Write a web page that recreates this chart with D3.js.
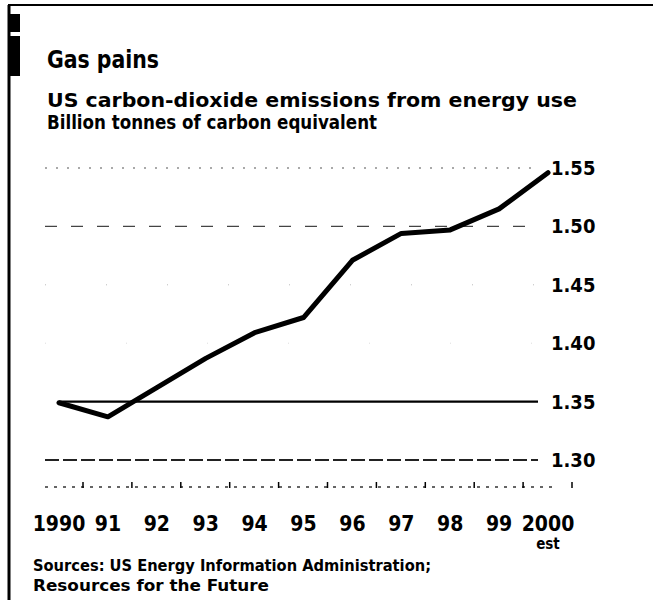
<!DOCTYPE html>
<html>
<head>
<meta charset="utf-8">
<script src="https://cdn.jsdelivr.net/npm/d3@7"></script>
<style>
  body { margin: 0; background: #fff; }
  svg text { font-family: "Liberation Sans Narrow", "DejaVu Sans Condensed", "Liberation Sans", sans-serif; fill: #000; }
</style>
</head>
<body>
<div id="chart"></div>
<script>
// US carbon-dioxide emissions, billion tonnes of carbon equivalent
var years = [1990, 1991, 1992, 1993, 1994, 1995, 1996, 1997, 1998, 1999, 2000];
var emissions = [1.349, 1.337, 1.362, 1.387, 1.409, 1.422, 1.471, 1.494, 1.497, 1.515, 1.546];
var yearLabels = ["1990", "91", "92", "93", "94", "95", "96", "97", "98", "99", "2000"];
var yTicks = [1.30, 1.35, 1.40, 1.45, 1.50, 1.55];

var W = 653, H = 607;
var svg = d3.select("#chart").append("svg")
    .attr("width", W)
    .attr("height", H);

svg.append("rect").attr("width", W).attr("height", H).attr("fill", "#fff");

// frame: top rule, left rule and the black tag
svg.append("line").attr("x1", 8).attr("x2", W).attr("y1", 5).attr("y2", 5)
    .attr("stroke", "#000").attr("stroke-width", 2);
svg.append("line").attr("x1", 9).attr("x2", 9).attr("y1", 5).attr("y2", 600)
    .attr("stroke", "#000").attr("stroke-width", 3);
svg.append("rect").attr("x", 8).attr("y", 14).attr("width", 12).attr("height", 18).attr("fill", "#000");
svg.append("rect").attr("x", 8).attr("y", 36).attr("width", 12).attr("height", 40).attr("fill", "#000");

// titles
svg.append("text").attr("x", 47).attr("y", 68)
    .style("font-size", "25px").style("font-weight", "bold")
    .attr("textLength", 112).attr("lengthAdjust", "spacingAndGlyphs")
    .text("Gas pains");
svg.append("text").attr("x", 47).attr("y", 107)
    .style("font-size", "19px").style("font-weight", "bold")
    .attr("textLength", 530).attr("lengthAdjust", "spacingAndGlyphs")
    .text("US carbon-dioxide emissions from energy use");
svg.append("text").attr("x", 47).attr("y", 129)
    .style("font-size", "19px").style("font-weight", "bold")
    .attr("textLength", 330).attr("lengthAdjust", "spacingAndGlyphs")
    .text("Billion tonnes of carbon equivalent");

var x = d3.scaleLinear().domain([1990, 2000]).range([59, 548]);
var y = d3.scaleLinear().domain([1.30, 1.55]).range([460, 168]);

// gridlines
var gridStyle = {
  "1.55": {dash: "2,9", w: 1.2, c: "#555"},
  "1.5":  {dash: "12,14", w: 1.2, c: "#444"},
  "1.45": {dash: "1,60", w: 1, c: "#bbb"},
  "1.4":  {dash: "1,80", w: 1, c: "#ddd"},
  "1.35": {dash: null, w: 2.2, c: "#000"},
  "1.3":  {dash: "14,4", w: 1.8, c: "#222"}
};
svg.append("g").selectAll("line")
  .data(yTicks)
  .enter().append("line")
    .attr("x1", function(d) { return d === 1.35 ? x(1990) : 45; })
    .attr("x2", 538)
    .attr("y1", function(d) { return y(d); })
    .attr("y2", function(d) { return y(d); })
    .attr("stroke", function(d) { return gridStyle[String(d)].c; })
    .attr("stroke-width", function(d) { return gridStyle[String(d)].w; })
    .attr("stroke-dasharray", function(d) { return gridStyle[String(d)].dash; });

// right-hand value labels
svg.append("g").selectAll("text")
  .data(yTicks)
  .enter().append("text")
    .attr("x", 551)
    .attr("y", function(d) { return y(d) + 7; })
    .style("font-size", "20px").style("font-weight", "bold")
    .text(function(d) { return d.toFixed(2); });

// x axis: dotted baseline with ticks
var axisY = 487;
svg.append("line").attr("x1", 45).attr("x2", 555).attr("y1", axisY).attr("y2", axisY)
    .attr("stroke", "#333").attr("stroke-width", 1.5).attr("stroke-dasharray", "3,6");
svg.append("g").selectAll("line")
  .data(years)
  .enter().append("line")
    .attr("x1", function(d) { return x(d) + 24; })
    .attr("x2", function(d) { return x(d) + 24; })
    .attr("y1", axisY - 5).attr("y2", axisY + 1)
    .attr("stroke", "#000").attr("stroke-width", 1.5);

svg.append("g").selectAll("text")
  .data(years)
  .enter().append("text")
    .attr("x", function(d) { return x(d); })
    .attr("y", 531)
    .attr("text-anchor", "middle")
    .style("font-size", "21px").style("font-weight", "bold")
    .text(function(d, i) { return yearLabels[i]; });
svg.append("text").attr("x", x(2000)).attr("y", 549)
    .attr("text-anchor", "middle")
    .style("font-size", "15px").style("font-weight", "bold")
    .text("est");

// the series
svg.append("path")
    .datum(emissions)
    .attr("fill", "none")
    .attr("stroke", "#000")
    .attr("stroke-width", 5)
    .attr("stroke-linejoin", "round")
    .attr("stroke-linecap", "round")
    .attr("d", d3.line()
        .x(function(d, i) { return x(years[i]); })
        .y(function(d) { return y(d); }));

// sources
svg.append("text").attr("x", 33).attr("y", 571)
    .style("font-size", "16px").style("font-weight", "bold")
    .attr("textLength", 398).attr("lengthAdjust", "spacingAndGlyphs")
    .text("Sources: US Energy Information Administration;");
svg.append("text").attr("x", 33).attr("y", 591)
    .style("font-size", "16px").style("font-weight", "bold")
    .attr("textLength", 236).attr("lengthAdjust", "spacingAndGlyphs")
    .text("Resources for the Future");
</script>
</body>
</html>
